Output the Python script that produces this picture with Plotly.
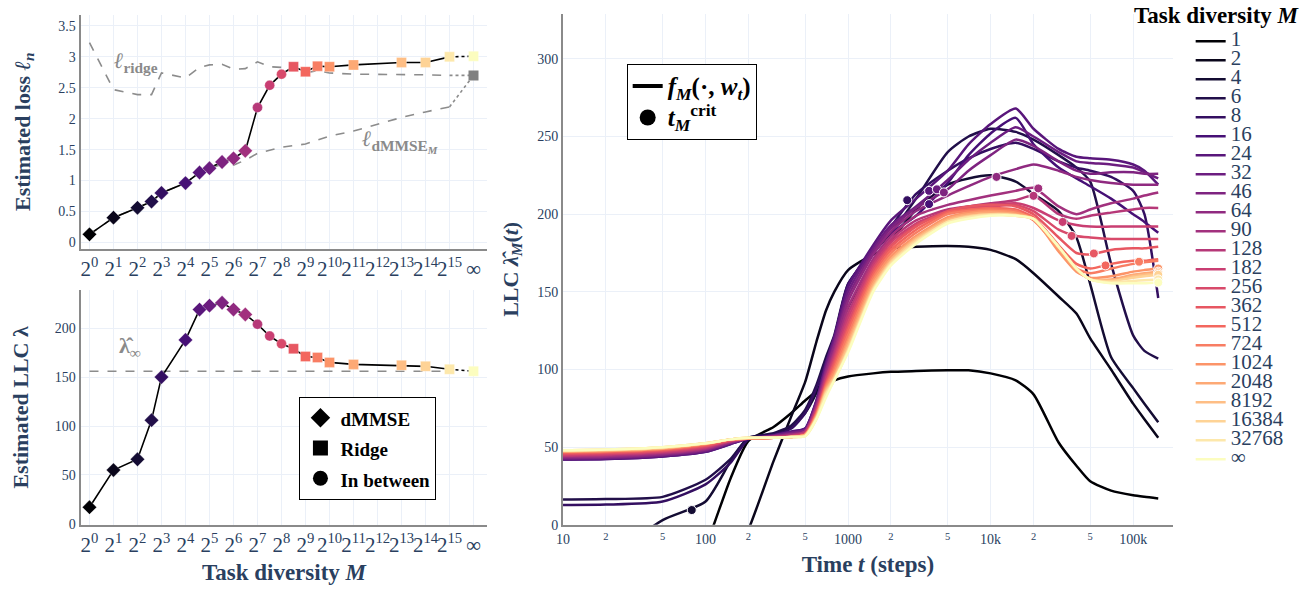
import numpy as np
import plotly.graph_objects as go
from plotly.colors import sample_colorscale

# ---------------- data ----------------
M_labels = ["1", "2", "4", "6", "8", "16", "24", "32", "46", "64", "90", "128", "182",
            "256", "362", "512", "724", "1024", "2048", "8192", "16384", "32768", "∞"]
M_values = [1, 2, 4, 6, 8, 16, 24, 32, 46, 64, 90, 128, 182, 256, 362, 512, 724, 1024,
            2048, 8192, 16384, 32768, np.inf]
phase = ["dMMSE"] * 11 + ["In between"] * 3 + ["Ridge"] * 9

loss = [0.13, 0.40, 0.56, 0.66, 0.80, 0.96, 1.13, 1.20, 1.30, 1.36, 1.48, 2.18, 2.54,
        2.72, 2.84, 2.76, 2.85, 2.84, 2.87, 2.91, 2.91, 3.00, 3.01]
llc = [17, 55, 66, 106, 150, 188, 219, 223, 226, 219, 214, 204, 192, 184, 179, 171, 170,
       165, 163, 162, 161, 158, 156]
ridge_loss = [3.23, 2.47, 2.39, 2.39, 2.74, 2.66, 2.83, 2.87, 2.88, 2.80, 2.81, 2.92, 2.84,
              2.83, 2.84, 2.74, 2.78, 2.74, 2.72, 2.72, 2.71, 2.70]
dmmse_loss = [0.13, 0.40, 0.56, 0.66, 0.80, 0.96, 1.13, 1.20, 1.26, 1.25, 1.33, 1.44, 1.49,
              1.54, 1.565, 1.59, 1.655, 1.72, 1.80, 2.02, 2.11, 2.19]
ridge_loss_inf = 2.70

x_tick_labels = ["2<sup>%d</sup>" % k for k in range(16)] + ["∞"]

# LLC trajectories (steps)
steps = [10, 20, 50, 100, 150, 200, 300, 400, 500, 600, 700, 800, 1000, 1500, 2000, 3000,
         5000, 7000, 10000, 15000, 20000, 30000, 40000, 50000, 70000, 100000, 120000, 150000]
llc_M1 = [-120, -100, -70, -14, 30, 54, 63, 72, 80, 86, 90, 93, 95.5, 97.5, 98.5, 99, 99.5, 99.5,
          97.5, 93, 84, 53, 38, 28, 22, 19, 18, 17]
llc_M2 = [-150, -130, -100, -60, -25, -3, 41, 70, 92, 118, 138, 150, 164, 174, 178, 179, 179.5, 179,
          177, 171, 162, 147, 136, 120, 100, 78, 68, 56]
llc_M4 = [-40, -22, 3, 15, 41, 56, 58, 63, 72, 85, 100, 115, 140, 168, 183, 203, 219, 223,
          225, 221, 213, 202, 185, 155, 108, 88, 78, 66]
llc_M6 = [16.3, 16.6, 18, 29, 42.5, 56, 59, 64, 74, 90, 108, 122, 155, 175, 188, 210, 240, 250,
          255, 253, 248, 238, 230, 221, 168, 122, 112, 107]
llc_M8 = [12.7, 13, 15, 26, 40, 55, 58, 62, 72, 88, 105, 120, 155, 177, 192, 213, 228, 236,
          242, 246, 242, 234, 230, 228, 224, 215, 200, 146]
llc_M16 = [42, 42.3, 44, 47, 52, 55.5, 57.5, 60, 62, 80, 103, 120, 154, 178, 188, 199, 220, 238,
           252, 262, 245, 230, 223, 218, 210, 200, 195, 188]
llc_M24 = [42, 42.3, 44, 47, 52, 55.5, 57.5, 60, 62, 80, 104, 121, 153, 180, 196, 210, 228, 245,
           258, 268, 255, 242, 237, 236, 235, 232, 228, 219]
llc_M32 = [42.5, 42.8, 44.5, 47.5, 52.5, 55.5, 57.5, 59.5, 61, 79, 102, 119, 150, 178, 193, 205, 222, 235,
           246, 256, 250, 240, 234, 233, 232, 230, 227, 223]
llc_M46 = [43, 43.3, 45, 48, 53, 55.5, 57, 59, 61, 78, 100, 117, 147, 176, 191, 204, 216, 228,
           238, 248, 244, 234, 228, 226, 227, 227, 226, 226]
llc_M64 = [43.5, 43.8, 45.5, 48.5, 53, 55.5, 57, 58.5, 60, 77, 99, 115, 144, 174, 189, 202, 212, 218,
           224, 229, 232, 228, 224, 222, 220, 219, 219, 219]
llc_M90 = [44, 44.3, 46, 49, 53.5, 55.5, 56.5, 58, 60, 76, 97, 112, 140, 171, 186, 199, 206, 209,
           212, 215, 217, 205, 200, 203, 207, 210, 212, 214]
llc_M128 = [44.5, 45, 46.5, 49.5, 54, 55.5, 56.5, 57.5, 60, 75, 95, 110, 136, 169, 184, 196, 203, 205,
            207, 209, 212, 200, 197, 199, 201, 203, 204, 204]
llc_M182 = [45, 45.5, 47, 50, 54, 55.5, 56.5, 57, 59, 74, 94, 108, 133, 167, 182, 194, 202, 205,
            206, 207, 204, 196, 193, 192, 192, 192, 192, 192]
llc_M256 = [45.5, 46, 47.5, 50.5, 54.5, 55.5, 56, 57, 59, 73, 92, 106, 130, 165, 180, 193, 201, 204,
            205, 206, 202, 190, 186, 185, 184, 184, 184, 184]
llc_M362 = [46, 46.5, 48, 51, 54.5, 55.5, 56, 56.5, 58, 72, 91, 104, 127, 163, 179, 192, 202, 205,
            206, 205, 200, 185, 175, 174, 177, 178, 178, 179]
llc_M512 = [46.5, 47, 48.5, 51.5, 55, 55.5, 56, 56.5, 58, 72, 90, 102, 125, 161, 177, 190, 201, 203,
            204, 203, 198, 180, 168, 165, 168, 170, 170, 171]
llc_M724 = [47, 47.5, 49, 52, 55, 55.5, 56, 56.5, 58, 71, 89, 100, 122, 159, 175, 188, 200, 202,
            203, 202, 196, 178, 165, 162, 165, 168, 169, 170]
llc_M1024 = [47, 47.5, 49, 52, 55, 55.5, 56, 56.5, 58, 70, 88, 98, 119, 157, 173, 186, 198, 201,
             202, 201, 197, 176, 163, 159, 160, 163, 164, 165]
llc_M2048 = [47.5, 48, 49.5, 52.5, 55, 55.8, 56, 56.5, 58, 70, 87, 96, 117, 155, 171, 185, 197, 200,
             201, 200, 197, 178, 164, 158, 158, 161, 162, 163]
llc_M8192 = [47.5, 48, 49.5, 52.5, 55, 56, 56, 56.5, 57.5, 69, 86, 95, 115, 153, 170, 184, 196, 199,
             200, 199, 197, 179, 165, 158, 157, 160, 161, 162]
llc_M16384 = [48, 48.5, 50, 52.5, 55, 56, 56, 56.5, 57.5, 69, 85, 94, 113, 152, 169, 183, 195, 198.5,
              200, 199.5, 197, 179, 165, 158, 157, 159, 160, 161]
llc_M32768 = [48, 48.5, 50, 52.5, 55, 56, 56, 56.5, 57, 68, 84, 93, 112, 151, 168, 182, 195, 198,
              199.5, 199, 197, 179, 165, 158, 156, 157, 157.5, 158]
llc_Minf = [48, 48.5, 50, 52.5, 55, 56, 56, 56.5, 57, 68, 82, 93, 111, 150, 167, 181, 194, 197,
            199, 199, 197, 179, 165, 158, 155.5, 155.5, 155.5, 156]
llc_curves = [llc_M1, llc_M2, llc_M4, llc_M6, llc_M8, llc_M16, llc_M24, llc_M32, llc_M46,
              llc_M64, llc_M90, llc_M128, llc_M182, llc_M256, llc_M362, llc_M512, llc_M724,
              llc_M1024, llc_M2048, llc_M8192, llc_M16384, llc_M32768, llc_Minf]

# critical times t_M^crit (index into M_labels, step, LLC)
crit_index = [2, 4, 5, 6, 7, 8, 9, 10, 11, 12, 13, 14, 15, 16, 17, 18, 19, 20, 21, 22]
crit_step = [80, 2600, 3700, 3700, 4200, 4700, 11000, 21600, 20000, 32000, 37000, 53000,
             64000, 110000, 150000, 150000, 150000, 150000, 150000, 150000]
crit_llc = [9.5, 209, 206.5, 215, 216, 214, 224, 216.6, 211.8, 195, 186, 174.7, 167, 169.4,
            165, 163, 162, 161, 158, 156]

# ---------------- styling ----------------
FONT = "Liberation Serif"
TXT = "#2a3f5f"
GRID = "#EBF0F8"
AX = "#8a8a8a"
colors = sample_colorscale("Magma", [i / (len(M_labels) - 1) for i in range(len(M_labels))])
sym_map = {"dMMSE": "diamond", "Ridge": "square", "In between": "circle"}
symbols = [sym_map[p] for p in phase]
sizes = [11 if p == "dMMSE" else 10 for p in phase]
pos = [float(np.log2(m)) if np.isfinite(m) else 16.0 for m in M_values]

fig = go.Figure()

# ---------- left panels ----------
for (xa, ya, vals) in [("x", "y", loss), ("x2", "y2", llc)]:
    if ya == "y":
        fig.add_trace(go.Scatter(x=pos[:-1], y=ridge_loss, mode="lines", xaxis=xa, yaxis=ya,
                                 line=dict(color="#8c8c8c", width=1.6, dash="dash"), showlegend=False))
        fig.add_trace(go.Scatter(x=pos[-2:], y=[ridge_loss[-1], ridge_loss_inf], mode="lines", xaxis=xa, yaxis=ya,
                                 line=dict(color="#8c8c8c", width=1.6, dash="dot"), showlegend=False))
        fig.add_trace(go.Scatter(x=pos[:-1], y=dmmse_loss, mode="lines", xaxis=xa, yaxis=ya,
                                 line=dict(color="#8c8c8c", width=1.6, dash="dash"), showlegend=False))
        fig.add_trace(go.Scatter(x=pos[-2:], y=[dmmse_loss[-1], ridge_loss_inf], mode="lines", xaxis=xa, yaxis=ya,
                                 line=dict(color="#8c8c8c", width=1.6, dash="dot"), showlegend=False))
        fig.add_trace(go.Scatter(x=[pos[-1]], y=[ridge_loss_inf], mode="markers", xaxis=xa, yaxis=ya,
                                 marker=dict(symbol="square", size=10, color="#808080", opacity=1),
                                 showlegend=False))
    else:
        fig.add_trace(go.Scatter(x=[pos[0], pos[-2]], y=[llc[-1], llc[-1]], mode="lines", xaxis=xa, yaxis=ya,
                                 line=dict(color="#8c8c8c", width=1.6, dash="dash"), showlegend=False))
    fig.add_trace(go.Scatter(x=pos[:-1], y=vals[:-1], mode="lines", xaxis=xa, yaxis=ya,
                             line=dict(color="black", width=1.6), showlegend=False))
    fig.add_trace(go.Scatter(x=pos[-2:], y=vals[-2:], mode="lines", xaxis=xa, yaxis=ya,
                             line=dict(color="black", width=1.6, dash="dot"), showlegend=False))
    fig.add_trace(go.Scatter(x=pos, y=vals, mode="markers", xaxis=xa, yaxis=ya,
                             marker=dict(symbol=symbols, size=sizes, color=colors, opacity=1,
                                         line=dict(color="white", width=0.3)),
                             showlegend=False))

# legend entries for phases (bottom-left box)
for nm, sy in [("dMMSE", "diamond"), ("Ridge", "square"), ("In between", "circle")]:
    fig.add_trace(go.Scatter(x=[None], y=[None], mode="markers", xaxis="x2", yaxis="y2",
                             marker=dict(symbol=sy, size=15, color="black"),
                             name='<span style="font-size:19px"><b>%s</b></span>' % nm,
                             legend="legend2"))

# ---------- right panel ----------
for lab, col, curve in zip(M_labels, colors, llc_curves):
    fig.add_trace(go.Scatter(x=steps, y=curve, mode="lines", xaxis="x3", yaxis="y3",
                             line=dict(color=col, width=2.5, shape="spline", smoothing=0.6),
                             name='<span style="font-size:21px">%s</span>' % lab,
                             legend="legend"))
fig.add_trace(go.Scatter(x=crit_step, y=crit_llc, mode="markers", xaxis="x3", yaxis="y3",
                         marker=dict(size=9, color=[colors[i] for i in crit_index], opacity=1,
                                     line=dict(color="white", width=1)),
                         showlegend=False))

fig.add_trace(go.Scatter(x=[None], y=[None], mode="lines", xaxis="x3", yaxis="y3",
                         line=dict(color="black", width=4),
                         name='<span style="font-size:25px"><b><i>f</i><sub><i>M</i></sub>(·, <i>w</i><sub><i>t</i></sub>)</b></span>',
                         legend="legend3"))
fig.add_trace(go.Scatter(x=[None], y=[None], mode="markers", xaxis="x3", yaxis="y3",
                         marker=dict(size=26, color="black"),
                         name='<span style="font-size:25px"><b><i>t</i><sub><i>M</i></sub><sup>crit</sup></b></span>',
                         legend="legend3"))

W, H = 1316, 592
def px_x(p): return p / W
def px_y(p): return 1 - p / H

axis_common = dict(showgrid=True, gridcolor=GRID, gridwidth=1, zeroline=False, showline=True,
                   linecolor=AX, linewidth=2, ticks="", tickfont=dict(family=FONT, size=14, color=TXT))

left_x = dict(axis_common, range=[-0.37, 16.58], tickvals=list(range(17)), ticktext=x_tick_labels,
              tickangle=0, tickfont=dict(family=FONT, size=21, color=TXT), domain=[px_x(74), px_x(483)])

fig.update_layout(
    width=W, height=H, margin=dict(l=0, r=0, t=0, b=0),
    template="plotly_white", paper_bgcolor="white", plot_bgcolor="white",
    font=dict(family=FONT, color=TXT),
    xaxis=dict(left_x, anchor="y", tickprefix="<b>", ticksuffix="</b>"),
    yaxis=dict(axis_common, range=[-0.1, 3.68], dtick=0.5, anchor="x",
               domain=[px_y(252), px_y(15)],
               title=dict(text="<b>Estimated loss <i>ℓ</i><sub><i>n</i></sub></b>",
                          font=dict(family=FONT, size=22, color=TXT), standoff=22)),
    xaxis2=dict(left_x, anchor="y2", tickprefix="<b>", ticksuffix="</b>",
                title=dict(text="<b>Task diversity <i>M</i></b>",
                           font=dict(family=FONT, size=23, color=TXT), standoff=8)),
    yaxis2=dict(axis_common, range=[-1, 239], dtick=50, anchor="x2",
                domain=[px_y(532), px_y(294)],
                title=dict(text="<b>Estimated LLC λ</b>",
                           font=dict(family=FONT, size=22, color=TXT), standoff=20)),
    xaxis3=dict(axis_common, type="log", range=[1, 5.278], dtick="D2", anchor="y3",
                domain=[px_x(559), px_x(1172)],
                title=dict(text="<b>Time <i>t</i> (steps)</b>",
                           font=dict(family=FONT, size=23, color=TXT), standoff=10)),
    yaxis3=dict(axis_common, range=[0, 329], dtick=50, anchor="x3",
                domain=[px_y(532), px_y(14)],
                title=dict(text="<b>LLC <i>λ̂</i><sub><i>M</i></sub>(<i>t</i>)</b>",
                           font=dict(family=FONT, size=22, color=TXT), standoff=13)),
    legend=dict(x=px_x(1190), y=px_y(27), xanchor="left", yanchor="top",
                font=dict(family=FONT, size=12, color=TXT), bgcolor="rgba(0,0,0,0)",
                tracegroupgap=0, itemwidth=30),
    legend2=dict(x=px_x(294), y=px_y(402), xanchor="left", yanchor="top",
                 font=dict(family=FONT, size=21, color="black"), bgcolor="white",
                 bordercolor="black", borderwidth=1),
    legend3=dict(x=px_x(623), y=px_y(65), xanchor="left", yanchor="top",
                 font=dict(family=FONT, size=22, color="black"), bgcolor="white",
                 bordercolor="black", borderwidth=1),
    annotations=[
        dict(text="<b><i>ℓ</i><sub>ridge</sub></b>", x=1.95, y=2.91, xref="x", yref="y",
             showarrow=False, font=dict(family=FONT, size=22, color="#8a8a8a")),
        dict(text="<b><i>ℓ</i><sub>dMMSE<sub><i>M</i></sub></sub></b>", x=12.95, y=1.64, xref="x", yref="y",
             showarrow=False, font=dict(family=FONT, size=22, color="#8a8a8a")),
        dict(text="<b>λ̂<sub>∞</sub></b>", x=1.7, y=181, xref="x2", yref="y2",
             showarrow=False, font=dict(family=FONT, size=22, color="#8a8a8a")),
        dict(text="<b>Task diversity <i>M</i></b>", x=px_x(1216), y=px_y(16), xref="paper", yref="paper",
             xanchor="center", yanchor="middle",
             showarrow=False, font=dict(family=FONT, size=23, color="black")),
    ],
)

fig.write_html("out.html")
